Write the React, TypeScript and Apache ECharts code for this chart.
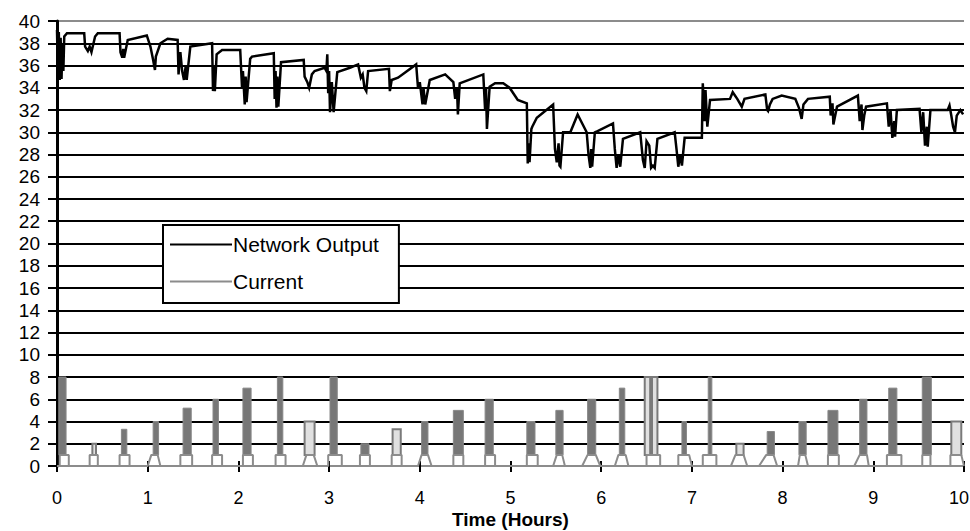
import React, { useEffect, useRef } from "react";
import * as echarts from "echarts";

// Network Output: [time (h), value]
const networkOutput: number[][] = [
  [0, 39.2], [0.01, 35.0], [0.02, 39.0], [0.03, 34.7], [0.04, 38.5], [0.05, 34.8], [0.06, 38.0], [0.07, 35.5], [0.08, 38.6], [0.11, 38.9],
  [0.30, 38.9], [0.31, 37.7], [0.34, 37.3], [0.36, 37.7], [0.38, 37.2], [0.42, 38.6], [0.45, 38.9], [0.69, 38.9], [0.70, 37.2], [0.72, 36.7],
  [0.73, 37.5], [0.74, 36.7], [0.78, 38.3], [0.99, 38.7], [1.03, 37.7], [1.06, 36.5], [1.08, 35.6], [1.09, 36.8], [1.14, 38.0], [1.22, 38.4],
  [1.33, 38.3], [1.34, 35.2], [1.36, 37.2], [1.38, 35.5], [1.40, 34.7], [1.42, 36.0], [1.43, 34.7], [1.47, 37.7], [1.71, 38.0], [1.72, 33.7],
  [1.73, 36.0], [1.74, 33.7], [1.76, 37.0], [1.82, 37.4], [2.02, 37.4], [2.04, 34.0], [2.05, 35.5], [2.07, 32.5], [2.08, 35.0], [2.09, 32.7],
  [2.13, 36.6], [2.15, 36.8], [2.39, 37.1], [2.40, 33.0], [2.41, 35.5], [2.42, 32.2], [2.43, 35.0], [2.44, 32.3], [2.47, 36.3], [2.72, 36.5],
  [2.73, 35.0], [2.76, 34.5], [2.78, 34.0], [2.81, 35.2], [2.84, 35.5], [2.95, 35.8], [2.97, 35.5], [2.98, 37.0], [2.99, 33.5], [3.00, 35.5],
  [3.01, 31.8], [3.03, 34.5], [3.05, 31.8], [3.09, 35.4], [3.23, 35.8], [3.32, 36.1], [3.35, 34.9], [3.37, 35.2], [3.39, 34.0], [3.41, 33.7],
  [3.43, 35.5], [3.66, 35.7], [3.67, 33.7], [3.69, 34.7], [3.76, 34.9], [3.96, 36.1], [3.98, 34.0], [4.00, 34.5], [4.03, 32.5], [4.04, 34.0],
  [4.06, 32.5], [4.11, 34.7], [4.28, 35.2], [4.37, 34.5], [4.39, 33.0], [4.41, 34.0], [4.42, 31.6], [4.44, 34.4], [4.70, 35.2], [4.72, 32.0],
  [4.73, 34.0], [4.74, 30.3], [4.77, 34.1], [4.83, 34.4], [4.92, 34.4], [4.99, 34.0], [5.08, 32.9], [5.18, 32.6], [5.19, 27.2], [5.20, 29.0],
  [5.21, 27.3], [5.23, 30.3], [5.24, 30.5], [5.29, 31.3], [5.47, 32.5], [5.49, 28.5], [5.51, 27.3], [5.53, 29.0], [5.54, 27.0], [5.55, 26.9],
  [5.58, 30.0], [5.66, 30.0], [5.74, 31.6], [5.84, 30.0], [5.86, 28.0], [5.88, 26.8], [5.89, 28.5], [5.90, 26.9], [5.93, 30.0], [5.96, 30.1],
  [6.13, 30.8], [6.15, 28.5], [6.17, 26.8], [6.19, 28.0], [6.21, 26.9], [6.24, 29.4], [6.43, 30.0], [6.46, 27.5], [6.48, 26.8], [6.50, 29.2],
  [6.53, 28.8], [6.55, 26.8], [6.57, 27.0], [6.59, 26.8], [6.62, 29.4], [6.81, 30.0], [6.83, 28.5], [6.85, 26.9], [6.87, 28.0], [6.89, 27.0],
  [6.92, 29.5], [7.11, 29.5], [7.12, 34.4], [7.14, 31.0], [7.15, 33.8], [7.17, 30.5], [7.20, 32.9], [7.42, 33.0], [7.45, 33.6], [7.50, 33.0],
  [7.55, 32.3], [7.58, 33.0], [7.81, 33.4], [7.83, 32.0], [7.84, 31.9], [7.86, 32.5], [7.89, 33.0], [7.99, 33.3], [8.14, 33.0], [8.18, 32.2],
  [8.21, 31.2], [8.23, 32.5], [8.28, 33.0], [8.52, 33.2], [8.53, 31.5], [8.55, 32.6], [8.56, 30.7], [8.58, 31.5], [8.60, 32.3], [8.83, 33.3],
  [8.85, 31.0], [8.87, 32.5], [8.88, 30.2], [8.90, 31.5], [8.92, 32.3], [9.15, 32.6], [9.17, 30.5], [9.19, 32.0], [9.21, 29.5], [9.23, 31.0],
  [9.24, 29.6], [9.26, 32.0], [9.51, 32.1], [9.53, 30.0], [9.55, 31.8], [9.57, 28.8], [9.59, 30.5], [9.60, 28.7], [9.63, 32.0], [9.82, 32.0],
  [9.84, 32.4], [9.86, 31.5], [9.88, 30.5], [9.90, 30.0], [9.92, 31.5], [9.96, 32.0], [9.99, 31.6],
];

// Current: base pulse outline (time points) and level
const currentBaseStart = [0.03, 0.36, 0.69, 1.00, 1.36, 1.71, 2.05, 2.41, 2.71, 2.99, 3.34, 3.69, 3.98, 4.37, 4.72, 5.18, 5.47, 5.79, 6.15, 6.50, 6.85, 7.12, 7.43, 7.74, 8.17, 8.50, 8.79, 9.15, 9.54, 9.85];
const currentTopStart = [0.03, 0.36, 0.69, 1.04, 1.36, 1.71, 2.05, 2.41, 2.75, 2.99, 3.34, 3.69, 4.02, 4.37, 4.72, 5.18, 5.51, 5.85, 6.19, 6.50, 6.85, 7.12, 7.48, 7.82, 8.19, 8.50, 8.85, 9.15, 9.54, 9.85];
const currentTopEnd = [0.13, 0.45, 0.80, 1.11, 1.49, 1.82, 2.16, 2.52, 2.83, 3.14, 3.45, 3.80, 4.09, 4.48, 4.83, 5.30, 5.57, 5.94, 6.27, 6.65, 6.97, 7.27, 7.57, 7.90, 8.25, 8.62, 8.93, 9.31, 9.63, 9.97];
const currentBaseEnd = [0.13, 0.45, 0.80, 1.14, 1.49, 1.82, 2.16, 2.52, 2.87, 3.14, 3.45, 3.80, 4.13, 4.48, 4.83, 5.30, 5.60, 5.99, 6.30, 6.65, 7.00, 7.27, 7.61, 7.94, 8.28, 8.62, 8.95, 9.31, 9.63, 10.0];
const currentBaseLevel = 1.0;

// Current: tall pulse bars
const currentBarStart = [0.02, 0.39, 0.71, 1.06, 1.39, 1.72, 2.05, 2.43, 2.73, 3.01, 3.35, 3.70, 4.02, 4.37, 4.72, 5.18, 5.50, 5.85, 6.20, 6.48, 6.56, 6.89, 7.18, 7.49, 7.83, 8.18, 8.50, 8.85, 9.17, 9.54, 9.86];
const currentBarEnd = [0.10, 0.43, 0.77, 1.12, 1.48, 1.78, 2.14, 2.49, 2.84, 3.09, 3.44, 3.79, 4.09, 4.48, 4.81, 5.27, 5.58, 5.94, 6.26, 6.54, 6.62, 6.94, 7.22, 7.57, 7.91, 8.26, 8.61, 8.93, 9.26, 9.64, 9.97];
const currentBarPeak = [8, 2, 3.3, 4, 5.2, 6, 7, 8, 4, 8, 2, 3.3, 4, 5, 6, 4, 5, 6, 7, 8, 8, 4, 8, 2, 3.1, 4, 5, 6, 7, 8, 4];
const currentBarHollow = [0, 1, 0, 0, 0, 0, 0, 0, 1, 0, 0, 1, 0, 0, 0, 0, 0, 0, 0, 1, 1, 0, 0, 1, 0, 0, 0, 0, 0, 0, 1];

const FONT = "'Liberation Sans', Arial, sans-serif";

export default function App() {
  const ref = useRef<HTMLDivElement>(null);

  useEffect(() => {
    if (!ref.current) return;
    const chart = echarts.init(ref.current, null, { renderer: "svg" });

    const currentLine: number[][] = [[0, 0]];
    for (let i = 0; i < currentBaseStart.length; i++) {
      currentLine.push([currentBaseStart[i], 0]);
      currentLine.push([currentTopStart[i], currentBaseLevel]);
      currentLine.push([currentTopEnd[i], currentBaseLevel]);
      currentLine.push([currentBaseEnd[i], 0]);
    }
    currentLine.push([10, 0]);

    const barData = currentBarStart.map((s, i) => [s, currentBarEnd[i], currentBarPeak[i], currentBarHollow[i]]);

    const gridColors: string[] = [];
    for (let v = 0; v <= 40; v += 2) gridColors.push(v === 0 || v === 40 ? "#8c8c8c" : "#000");

    chart.setOption({
      animation: false,
      backgroundColor: "#fff",
      grid: { left: 57, right: 6, top: 21, bottom: 65, outerBoundsMode: "none", containLabel: false },
      legend: {
        data: [
          { name: "Network Output", icon: "rect" },
          { name: "Current", icon: "rect" },
        ],
        orient: "vertical",
        left: 163,
        top: 225,
        itemWidth: 62,
        itemHeight: 2,
        itemGap: 16,
        padding: [9, 20, 11, 7],
        backgroundColor: "#fff",
        borderColor: "#000",
        borderWidth: 2,
        textStyle: { fontFamily: FONT, fontSize: 21, color: "#000", padding: [0, 0, 0, -4] },
        selectedMode: false,
      },
      xAxis: [
        {
          type: "value",
          min: 0,
          max: 10,
          interval: 1,
          name: "Time (Hours)",
          nameLocation: "middle",
          nameGap: 44,
          nameMoveOverlap: false,
          nameTextStyle: { fontFamily: FONT, fontSize: 19, lineHeight: 19, fontWeight: "bold", color: "#000" },
          axisLine: { show: false },
          axisTick: { show: true, length: 6, lineStyle: { color: "#000", width: 2 } },
          axisLabel: {
            fontFamily: FONT,
            fontSize: 18,
            color: "#000",
            margin: 23,
            formatter: (v: number) => (v === 10 ? "{e|10}" : String(v)),
            rich: { e: { fontFamily: FONT, fontSize: 18, color: "#000", padding: [0, 10, 0, 0] } },
          },
          splitLine: { show: false },
        },
        {
          type: "value",
          min: 0,
          max: 10,
          interval: 1,
          position: "bottom",
          axisLine: { show: false },
          axisTick: { show: true, inside: true, length: 5, lineStyle: { color: "#000", width: 2 } },
          axisLabel: { show: false },
          splitLine: { show: false },
        },
      ],
      yAxis: {
        type: "value",
        min: 0,
        max: 40,
        interval: 2,
        axisLine: { show: true, lineStyle: { color: "#000", width: 3 } },
        axisTick: { show: true, length: 9, lineStyle: { color: "#000", width: 2 } },
        axisLabel: { fontFamily: FONT, fontSize: 19, color: "#000", margin: 17 },
        splitLine: { show: true, showMinLine: true, showMaxLine: true, lineStyle: { color: gridColors, width: 2 } },
      },
      series: [
        {
          name: "Current bars",
          type: "custom",
          xAxisIndex: 0,
          encode: { x: [0, 1], y: 2 },
          data: barData,
          z: 3,
          renderItem: (params: any, api: any) => {
            const p0 = api.coord([api.value(0), currentBaseLevel]);
            const p1 = api.coord([api.value(1), api.value(2)]);
            const hollow = api.value(3) === 1;
            return {
              type: "rect",
              shape: { x: p0[0], y: p1[1], width: Math.max(p1[0] - p0[0], 2), height: p0[1] - p1[1] },
              style: hollow
                ? { fill: "#e0e0e0", stroke: "#7a7a7a", lineWidth: 2 }
                : { fill: "#777777", stroke: "#888888", lineWidth: 1 },
            };
          },
        },
        {
          name: "Current",
          type: "line",
          xAxisIndex: 0,
          data: currentLine,
          symbol: "none",
          z: 4,
          color: "#8c8c8c",
          lineStyle: { color: "#8c8c8c", width: 2 },
        },
        {
          name: "Network Output",
          type: "line",
          xAxisIndex: 0,
          data: networkOutput,
          symbol: "none",
          z: 5,
          color: "#000",
          lineStyle: { color: "#000", width: 2.5, join: "miter" },
        },
      ],
    });

    return () => chart.dispose();
  }, []);

  return (
    <div
      ref={ref}
      style={{ position: "fixed", left: 0, top: 0, width: 970, height: 531, background: "#fff" }}
    />
  );
}
